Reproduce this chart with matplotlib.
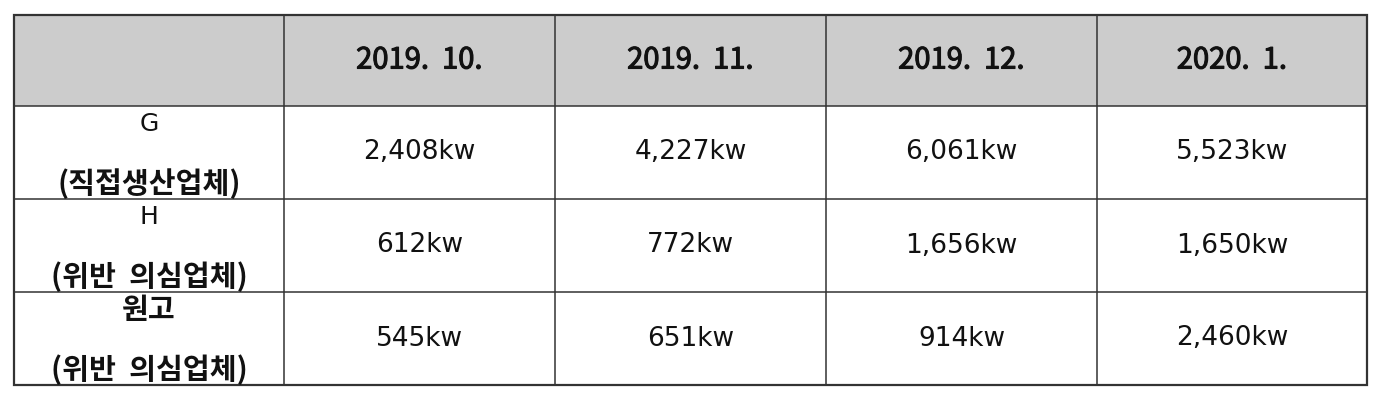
import matplotlib.pyplot as plt
import matplotlib.patheffects as pe
from matplotlib.patches import Rectangle

plt.rcParams['font.family'] = ['DejaVu Sans', 'Noto Sans CJK KR']

# 표 데이터
months = ['2019.  10.', '2019.  11.', '2019.  12.', '2020.  1.']
row_names = ['G', 'H', '원고']
row_notes = ['(직접생산업체)', '(위반  의심업체)', '(위반  의심업체)']
g_values = ['2,408kw', '4,227kw', '6,061kw', '5,523kw']
h_values = ['612kw', '772kw', '1,656kw', '1,650kw']
plaintiff_values = ['545kw', '651kw', '914kw', '2,460kw']
values = [g_values, h_values, plaintiff_values]

# 레이아웃 (픽셀)
col_edges = [14, 284, 555, 826, 1097, 1367]
row_edges = [15, 106, 199, 292, 385]
line_color = '#333333'
kr_font = ['Noto Sans CJK KR', 'DejaVu Sans']
medium = [pe.withStroke(linewidth=0.8, foreground='#111111')]

fig = plt.figure(figsize=(13.82, 4.0), dpi=100)
ax = fig.add_axes([0, 0, 1, 1])
ax.set_xlim(0, 1382)
ax.set_ylim(400, 0)
ax.axis('off')

# 헤더 배경
ax.add_patch(Rectangle((col_edges[0], row_edges[0]), col_edges[-1] - col_edges[0],
                       row_edges[1] - row_edges[0], facecolor='#cccccc', edgecolor='none'))

# 격자선
for x in col_edges:
    ax.plot([x, x], [row_edges[0], row_edges[-1]], color=line_color, lw=1.1)
for y in row_edges:
    ax.plot([col_edges[0], col_edges[-1]], [y, y], color=line_color, lw=1.1)
ax.add_patch(Rectangle((col_edges[0], row_edges[0]), col_edges[-1] - col_edges[0],
                       row_edges[-1] - row_edges[0], fill=False, edgecolor=line_color, lw=1.6))

# 헤더
hy = (row_edges[0] + row_edges[1]) / 2
for j, m in enumerate(months):
    cx = (col_edges[j + 1] + col_edges[j + 2]) / 2
    ax.text(cx, hy, m, ha='center', va='center', fontsize=21, color='#111111',
            family=kr_font, path_effects=medium)

# 본문
for i in range(len(row_names)):
    top, bot = row_edges[i + 1], row_edges[i + 2]
    h = bot - top
    lx = (col_edges[0] + col_edges[1]) / 2
    if row_names[i].isascii():
        ax.text(lx, top + 0.19 * h, row_names[i], ha='center', va='center',
                fontsize=18, color='#111111')
    else:
        ax.text(lx, top + 0.19 * h, row_names[i], ha='center', va='center',
                fontsize=21, fontweight='bold', color='#111111', family=kr_font)
    ax.text(lx, top + 0.84 * h, row_notes[i], ha='center', va='center',
            fontsize=21, fontweight='bold', color='#111111', family=kr_font)
    for j, v in enumerate(values[i]):
        cx = (col_edges[j + 1] + col_edges[j + 2]) / 2
        ax.text(cx, top + h / 2, v, ha='center', va='center', fontsize=19, color='#111111')

fig.savefig('out.png', dpi=100, facecolor='white')
